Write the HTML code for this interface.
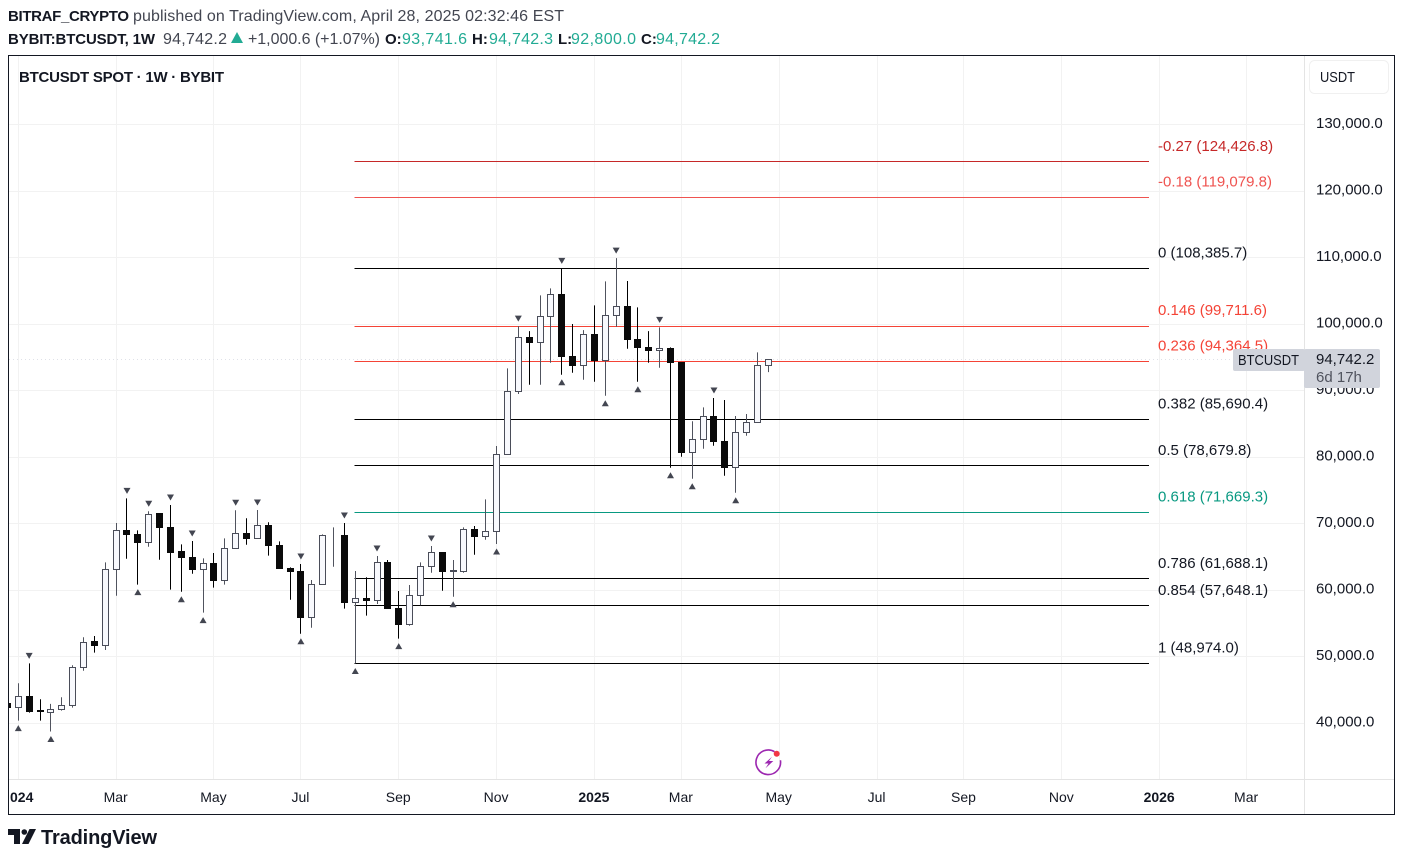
<!DOCTYPE html>
<html lang="en">
<head>
<meta charset="utf-8">
<title>BTCUSDT Spot 1W - TradingView</title>
<style>
html,body{margin:0;padding:0;background:#fff;width:1403px;height:861px;overflow:hidden}
svg{display:block;font-family:"Liberation Sans",sans-serif}
</style>
</head>
<body>
<svg id="root" xmlns="http://www.w3.org/2000/svg" width="1403" height="861" viewBox="0 0 1403 861">
  <rect x="0" y="0" width="1403" height="861" fill="#ffffff"/>
  <g font-size="16" fill="#131722">
    <text x="8" y="21" font-size="15" font-weight="700" textLength="121">BITRAF_CRYPTO</text>
    <text x="133" y="21" fill="#434651" textLength="431">published on TradingView.com, April 28, 2025 02:32:46 EST</text>
    <text x="8" y="44" font-size="15" font-weight="700" textLength="147">BYBIT:BTCUSDT, 1W</text>
    <text x="163" y="44" fill="#434651" textLength="64">94,742.2</text>
    <polygon points="231,43 243,43 237,32" fill="#22ab94"/>
    <text x="248" y="44" fill="#434651" textLength="132">+1,000.6 (+1.07%)</text>
    <text x="385" y="44" font-size="15" font-weight="700">O:</text>
    <text x="402" y="44" fill="#22ab94" textLength="65">93,741.6</text>
    <text x="472" y="44" font-size="15" font-weight="700">H:</text>
    <text x="489" y="44" fill="#22ab94" textLength="64">94,742.3</text>
    <text x="558" y="44" font-size="15" font-weight="700">L:</text>
    <text x="571" y="44" fill="#22ab94" textLength="65">92,800.0</text>
    <text x="641" y="44" font-size="15" font-weight="700">C:</text>
    <text x="656" y="44" fill="#22ab94" textLength="64">94,742.2</text>
  </g>
  <g id="grid"></g>
  <g id="priceAxis"></g>
  <g id="timeAxis"></g>
  <g id="fib"></g>
  <g id="candles"></g>
  <g id="pivots"></g>
  <g>
    <rect x="1233" y="349" width="72" height="22" rx="2" fill="#d1d4dc"/>
    <text x="1238" y="365" font-size="15" fill="#131722" textLength="61" lengthAdjust="spacingAndGlyphs">BTCUSDT</text>
    <rect x="1304" y="349" width="76" height="39" rx="2" fill="#d1d4dc"/>
    <text id="priceTag" x="1316" y="364" font-size="15" fill="#131722">94,742.2</text>
    <text x="1316" y="382" font-size="15" fill="#50535e">6d 17h</text>
  </g>
  <g>
    <rect x="8.5" y="55.5" width="1386" height="759" fill="none" stroke="#131722" stroke-width="1"/>
    <text x="19" y="82" font-size="15" font-weight="700" fill="#131722" textLength="205">BTCUSDT SPOT · 1W · BYBIT</text>
    <rect x="1309.5" y="60.5" width="79" height="33" rx="5" fill="#ffffff" stroke="#f0f0f0"/>
    <text x="1320" y="82" font-size="15" fill="#131722" textLength="35" lengthAdjust="spacingAndGlyphs">USDT</text>
  </g>
  <g>
    <path d="M774.5 751.65 A12.3 12.3 0 1 0 780.4 760.2" fill="none" stroke="#9c27b0" stroke-width="1.6"/>
    <polygon points="772,756.7 764.5,763.5 768.5,763.5 765.5,768.3 773.3,761 769,761" fill="#9c27b0"/>
    <circle cx="776.7" cy="753.7" r="3" fill="#f23645"/>
  </g>
  <g>
    <path d="M8 829H20V844H14V835H8Z M36 829L28.5 844H22L29.5 829Z" fill="#131722"/>
    <circle cx="24.3" cy="832" r="2.8" fill="#131722"/>
    <text x="41" y="844" font-size="20" font-weight="700" fill="#131722" textLength="116">TradingView</text>
  </g>
</svg>
<script>
// Weekly candles: index 0 is the week of 1 Jan 2024; the first value is the week before it.
const weekIndexStart = -1;
const opens = [43005,42405,44055,41895,41595,42045,42645,48345,52215,51720,63140,69000,68445,67200,71460,69495,65745,64985,63140,64085,61490,66300,68550,67740,69750,66750,63290,62840,55930,60895,68205,68250,58120,58825,58480,64235,57280,54810,59170,63590,65700,62840,62780,69150,68100,68850,80435,89840,98020,97270,101180,104525,95215,93810,98515,94560,101330,102725,97765,96565,96070,96370,94305,80735,82685,86195,82430,78475,83735,85250,93741.6];
const highs = [43200,46005,49005,43605,42900,43905,48705,52920,53115,64190,70110,73815,69000,71865,71460,72810,66900,67395,64790,65585,67800,72015,70815,72060,70215,67350,63440,63935,61535,68400,69450,70110,62885,61940,65135,64535,59875,60785,64190,66645,65700,64535,69450,69645,73665,81680,93360,99715,98965,104330,105395,108385.7,100025,99115,102830,106445,109940,106490,102530,98965,99520,96520,94305,85400,87500,88895,88595,86195,86495,95770,94742.3];
const lows = [42150,40395,41595,40395,38745,41895,42345,47895,50610,51015,59170,64730,60830,66540,64580,60080,59770,62480,56620,60380,60830,66300,66840,67740,65190,63230,58570,53460,54360,60890,63530,57220,48974,56170,57925,57220,52710,54660,57730,62630,59920,59020,62630,65340,67590,66945,80435,89495,90900,90900,94200,92400,92700,91650,91350,89240,99610,96310,91350,94200,93450,78415,80075,76765,81275,81725,77215,74655,83225,85175,92800];
const closes = [42345,44000,41745,41805,42105,42645,48405,52170,51660,63140,69000,68340,67140,71415,69390,65640,64880,63080,64040,61430,66300,68550,67740,69750,66690,63230,62780,55870,60830,68250,68295,58120,58780,58420,64190,57220,54810,59230,63590,65700,62780,62930,69150,68040,68790,80435,89900,98020,97210,101180,104480,95110,93750,98470,94500,101330,102680,97660,96460,96010,96370,94200,80675,82685,86150,82325,78415,83735,85235,93810,94742.2];
const pivotHighWeeks = [1,10,12,14,16,20,22,26,30,33,38,46,50,55,59,64];
const pivotLowWeeks = [0,3,11,15,17,26,31,35,40,44,50,54,57,60,62,66];
const fibRatios = ["-0.27","-0.18","0","0.146","0.236","0.382","0.5","0.618","0.786","0.854","1"];
const fibPrices = [124426.8,119079.8,108385.7,99711.6,94364.5,85690.4,78679.8,71669.3,61688.1,57648.1,48974.0];
const priceTicks = [130000,120000,110000,100000,90000,80000,70000,60000,50000,40000];
const timeTickWeeks = [0,9,18,26,35,44,53,61,70,79,87,96,105,113];
const timeTickLabels = ["2024","Mar","May","Jul","Sep","Nov","2025","Mar","May","Jul","Sep","Nov","2026","Mar"];
const boldTimeLabels = ["2024","2025","2026"];
const fibStartWeek = 31;

const NS = "http://www.w3.org/2000/svg";
const PLOT = {left:9, right:1304, top:56, bottom:779};
function xAt(week){ return 18.3 + 10.87 * week; }
function yAt(price){ return 723.2 - (price - 40000) * 0.00665; }
function crisp(v){ return Math.floor(v) + 0.5; }
function fmt(v){ return v.toLocaleString("en-US",{minimumFractionDigits:1,maximumFractionDigits:1}); }
function make(parent, tag, attrs, text){
  const el = document.createElementNS(NS, tag);
  for (const k in attrs) el.setAttribute(k, attrs[k]);
  if (text !== undefined) el.textContent = text;
  parent.appendChild(el);
  return el;
}
function fibColor(ratio){
  if (ratio === "-0.27") return "#c62828";
  if (ratio === "-0.18") return "#ef5350";
  if (ratio === "0.146" || ratio === "0.236") return "#f44336";
  if (ratio === "0.618") return "#089981";
  return "#000000";
}

const defs = make(document.getElementById("root"), "defs", {});
const cp = make(defs, "clipPath", {id:"plotClip"});
make(cp, "rect", {x:PLOT.left, y:PLOT.top, width:PLOT.right-PLOT.left, height:PLOT.bottom-PLOT.top});
const axisClip = make(defs, "clipPath", {id:"axisClip"});
make(axisClip, "rect", {x:PLOT.left+1, y:PLOT.bottom, width:PLOT.right-PLOT.left, height:34});

const grid = document.getElementById("grid");
const priceAxis = document.getElementById("priceAxis");
const timeAxis = document.getElementById("timeAxis");
priceTicks.forEach(function(t){
  const y = crisp(yAt(t));
  const line = make(grid, "line", {x1:PLOT.left, x2:PLOT.right, y1:y, y2:y, stroke:"#f2f2f2"});
  
  
  const label = make(priceAxis, "text", {x:1316, y:yAt(t)+3.5, "font-size":15, fill:"#131722"}, fmt(t));
  
  
});
timeTickWeeks.forEach(function(w, i){
  const x = crisp(xAt(w));
  const line = make(grid, "line", {x1:x, x2:x, y1:PLOT.top, y2:PLOT.bottom, stroke:"#f2f2f2"});
  
  
  const isBold = boldTimeLabels.indexOf(timeTickLabels[i]) >= 0;
  const wrap = make(timeAxis, "g", {"clip-path":"url(#axisClip)"});
  
  
  const label = make(wrap, "text", {x:xAt(w)-0.5, y:802, "font-size":14, fill:"#131722", "text-anchor":"middle", "font-weight":isBold?700:400}, timeTickLabels[i]);
  
  
});
const priceDivider = make(grid, "line", {x1:1304.5, x2:1304.5, y1:PLOT.top, y2:814, stroke:"#e4e4e4"});


const timeDivider = make(grid, "line", {x1:PLOT.left, x2:1394, y1:779.5, y2:779.5, stroke:"#e4e4e4"});


const lastPriceLine = make(grid, "line", {x1:PLOT.left, x2:PLOT.right, y1:crisp(yAt(closes[closes.length-1])), y2:crisp(yAt(closes[closes.length-1])), stroke:"#dfe1e8", "stroke-dasharray":"1 3"});



const fib = document.getElementById("fib");
fibRatios.forEach(function(r, i){
  const y = crisp(yAt(fibPrices[i]));
  const color = fibColor(r);
  const line = make(fib, "line", {x1:crisp(xAt(fibStartWeek))-1, x2:1149, y1:y, y2:y, stroke:color});
  
  
  const label = make(fib, "text", {x:1158, y:yAt(fibPrices[i])-11, "font-size":15, fill:color === "#000000" ? "#131722" : color}, r + " (" + fmt(fibPrices[i]) + ")");
  
  
});

const candles = document.getElementById("candles");
candles.setAttribute("clip-path", "url(#plotClip)");
opens.forEach(function(o, i){
  const week = weekIndexStart + i;
  const c = closes[i];
  const up = c >= o;
  const x = crisp(xAt(week));
  const wick = make(candles, "line", {x1:x, x2:x, y1:yAt(highs[i]), y2:yAt(lows[i]), stroke: up ? "#50535e" : "#000000"});
  
  
  const top = crisp(yAt(Math.max(o, c)));
  const bot = crisp(yAt(Math.min(o, c)));
  let body;
  if (up) {
    body = make(candles, "rect", {x:x-3, y:top, width:6, height:Math.max(bot-top,0), fill:"#f8f9fd", stroke:"#4a4d59"});
  } else {
    body = make(candles, "rect", {x:x-3.5, y:top-0.5, width:7, height:Math.max(bot-top+1,1), fill:"#0a0a0a"});
  }
  
  
});

const pivots = document.getElementById("pivots");
pivotHighWeeks.forEach(function(w){
  const x = xAt(w), y = yAt(highs[w - weekIndexStart]) - 7.5;
  const m = make(pivots, "polygon", {points:(x-3.5)+","+(y-3)+" "+(x+3.5)+","+(y-3)+" "+x+","+(y+3), fill:"#434651"});
  
  
});
pivotLowWeeks.forEach(function(w){
  const x = xAt(w), y = yAt(lows[w - weekIndexStart]) + 7.5;
  const m = make(pivots, "polygon", {points:(x-3.5)+","+(y+3)+" "+(x+3.5)+","+(y+3)+" "+x+","+(y-3), fill:"#434651"});
  
  
});
</script>
</body>
</html>
